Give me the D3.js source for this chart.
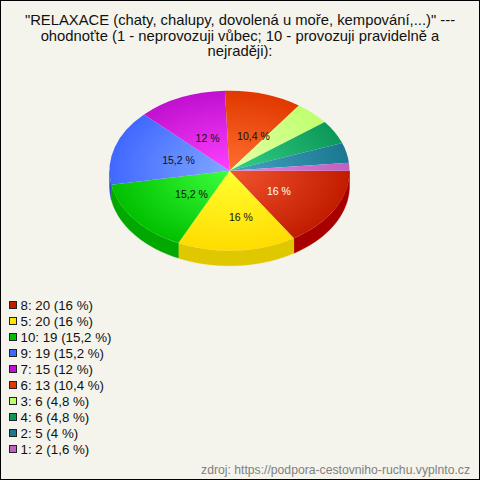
<!DOCTYPE html>
<html><head><meta charset="utf-8">
<script src="https://cdn.jsdelivr.net/npm/d3@7"></script>
<style>html,body{margin:0;padding:0;background:#f4f4ec}svg{display:block}text{font-family:"Liberation Sans",Arial,sans-serif}</style>
</head><body><svg id="c" width="480" height="480"></svg>
<script>
const titleLines=['"RELAXACE (chaty, chalupy, dovolená u moře, kempování,...)" ---','ohodnoťte (1 - neprovozuji vůbec; 10 - provozuji pravidelně a','nejraději):'];
const categories=["8","5","10","9","7","6","3","4","2","1"];
const counts=[20,20,19,19,15,13,6,6,5,2];
const percents=["16","16","15,2","15,2","12","10,4","4,8","4,8","4","1,6"];
const innerColors=["#f2552f","#ffff30","#3cff3c","#80a8ff","#ff40ff","#ff7030","#e4ffa8","#34d088","#44a4c4","#e484e4"];
const outerColors=["#c21c00","#ffdc00","#00c000","#4068ff","#c010d0","#e03800","#c0ff70","#0c9858","#1c7890","#c060c0"];
const sideColors=["#a80000","#e0c800","#00a800","#2850c0","#900090","#a82800","#90c050","#087040","#105868","#904890"];
const legendColors=["#c21c00","#ffe600","#00c000","#4068ff","#c010d0","#e03800","#c0ff70","#0c9858","#1c7890","#c060c0"];
const source="zdroj: https://podpora-cestovniho-ruchu.vyplnto.cz";

const W=480,H=480,cx=229.5,cy=170.7,rx=120,ry=80,depth=15;
const labelNudge=[[-1.7,-0.8],[5,5.5],[2.6,-2.5],[-1.5,-2.2],[-2.8,-0.7],[5.3,-1.1]];
const svg=d3.select("#c");
svg.append("rect").attr("x",.5).attr("y",.5).attr("width",W-1).attr("height",H-1).attr("fill","#f4f4ec").attr("stroke","#000");
const defs=svg.append("defs");
titleLines.forEach((t,i)=>svg.append("text").attr("x",240).attr("y",25+i*15.5).attr("text-anchor","middle").attr("font-size",14.8).attr("fill","#111").text(t));

const pie=d3.pie().sort(null).value((d,i)=>counts[i]).startAngle(Math.PI/2).endAngle(Math.PI/2+2*Math.PI);
const arcs=pie(categories);
const sx=d3.scaleLinear().domain([-1,1]).range([cx-rx,cx+rx]);
const sy=d3.scaleLinear().domain([-1,1]).range([cy-ry,cy+ry]);
const wall=d3.line().x(d=>d[0]).y(d=>d[1]);
arcs.forEach((a,i)=>{
  const s=a.startAngle, e=Math.min(a.endAngle,Math.PI*1.5);
  if(s>=e) return;
  const angs=d3.range(0,41).map(k=>s+(e-s)*k/40);
  const pt=(t,dy)=>[sx(Math.sin(t)),sy(-Math.cos(t))+dy];
  const pts=angs.map(t=>pt(t,0)).concat(angs.slice().reverse().map(t=>pt(t,depth)));
  svg.append("path").attr("d",wall(pts)+"Z").attr("fill",sideColors[i]).attr("stroke",sideColors[i]).attr("stroke-width",.4);
});
const g=svg.append("g").attr("transform",`translate(${cx},${cy}) scale(${rx},${ry})`);
const arc=d3.arc().innerRadius(0).outerRadius(1);
arcs.forEach((a,i)=>{
  const gr=defs.append("radialGradient").attr("id","g"+i).attr("gradientUnits","userSpaceOnUse").attr("cx",0).attr("cy",0).attr("r",1);
  gr.append("stop").attr("offset",0).attr("stop-color",innerColors[i]);
  gr.append("stop").attr("offset",1).attr("stop-color",outerColors[i]);
  g.append("path").attr("d",arc(a)).attr("fill",`url(#g${i})`);
});
arcs.forEach((a,i)=>{
  if(counts[i]/d3.sum(counts)<.1) return;
  const m=(a.startAngle+a.endAngle)/2;
  svg.append("text").attr("x",cx+3+55*Math.sin(m)+labelNudge[i][0]).attr("y",cy+3-38*Math.cos(m)+labelNudge[i][1]+3.5)
    .attr("text-anchor","middle").attr("font-size",10.5).attr("fill",i===0?"#fff":"#111").text(percents[i]+" %");
});
categories.forEach((c,i)=>{
  const y=305+i*16;
  svg.append("rect").attr("x",9.5).attr("y",y-3.5).attr("width",7).attr("height",7).attr("fill",legendColors[i]).attr("stroke","#222");
  svg.append("text").attr("x",20.5).attr("y",y+5).attr("font-size",13.3).attr("fill","#111").text(`${c}: ${counts[i]} (${percents[i]} %)`);
});
svg.append("text").attr("x",470).attr("y",474).attr("text-anchor","end").attr("font-size",12.2).attr("fill","#808080").text(source);
</script></body></html>
